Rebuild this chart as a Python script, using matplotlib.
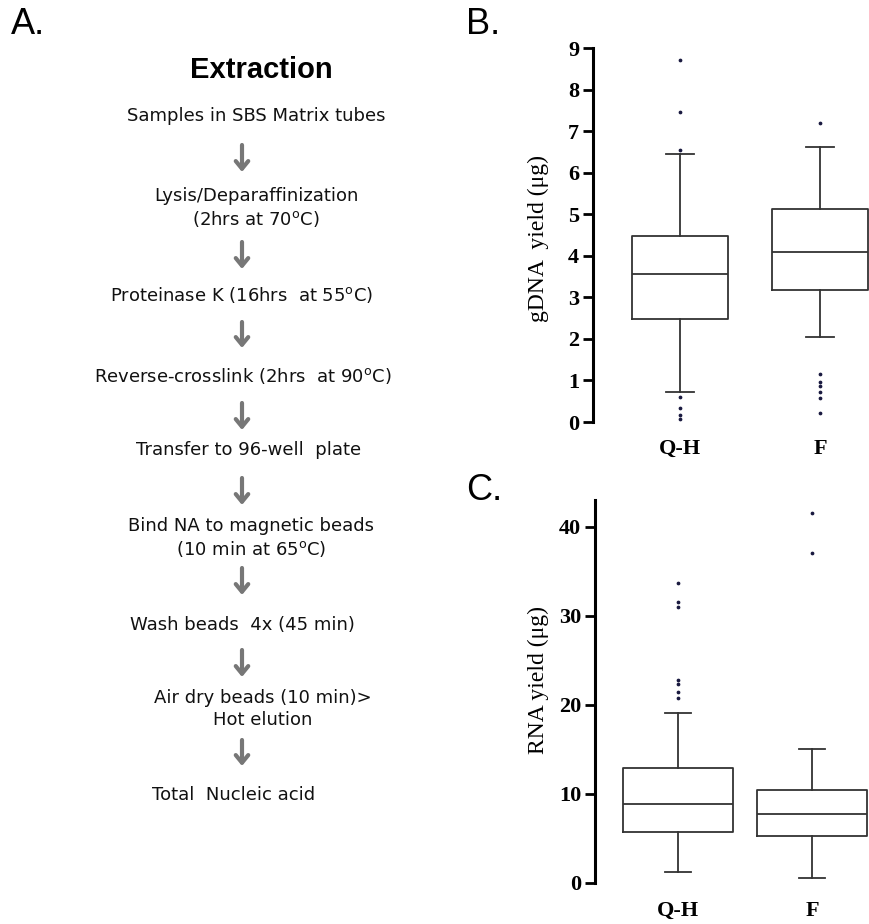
import matplotlib
matplotlib.use("Agg")
import matplotlib.pyplot as plt

# ---------------- data ----------------
groups = ["Q-H", "F"]

gdna_whislo = [0.72, 2.05]
gdna_q1 = [2.47, 3.18]
gdna_med = [3.57, 4.10]
gdna_q3 = [4.48, 5.12]
gdna_whishi = [6.45, 6.62]
gdna_fliers_qh = [8.70, 7.45, 6.55, 0.60, 0.34, 0.17, 0.07]
gdna_fliers_f = [7.20, 1.15, 0.96, 0.87, 0.72, 0.58, 0.22]

rna_whislo = [1.2, 0.6]
rna_q1 = [5.7, 5.3]
rna_med = [8.9, 7.7]
rna_q3 = [12.9, 10.4]
rna_whishi = [19.1, 15.1]
rna_fliers_qh = [33.7, 31.6, 31.0, 22.8, 22.3, 21.5, 20.8]
rna_fliers_f = [41.5, 37.1]

gdna_ticks = [0, 1, 2, 3, 4, 5, 6, 7, 8, 9]
rna_ticks = [0, 10, 20, 30, 40]

steps = [
    "Samples in SBS Matrix tubes",
    "Lysis/Deparaffinization\n(2hrs at 70$^{\\mathregular{o}}$C)",
    "Proteinase K (16hrs  at 55$^{\\mathregular{o}}$C)",
    "Reverse-crosslink (2hrs  at 90$^{\\mathregular{o}}$C)",
    "Transfer to 96-well  plate",
    "Bind NA to magnetic beads\n(10 min at 65$^{\\mathregular{o}}$C)",
    "Wash beads  4x (45 min)",
    "Air dry beads (10 min)>\nHot elution",
    "Total  Nucleic acid",
]

# ---------------- layout ----------------
W, H = 869, 924
fig = plt.figure(figsize=(W / 100, H / 100), dpi=100)

# Panel A: flow chart in pixel coordinates
axA = fig.add_axes([0, 0, 1, 1])
axA.set_xlim(0, W)
axA.set_ylim(H, 0)
axA.axis("off")

sans = "Liberation Sans"
flow_font = "DejaVu Sans"
axA.text(11, 25, "A.", fontsize=26, family=sans, va="center", ha="left")
axA.text(466, 24, "B.", fontsize=26, family=sans, va="center", ha="left")
axA.text(466, 491, "C.", fontsize=26, family=sans, va="center", ha="left")
axA.text(261, 70, "Extraction", fontsize=21, family=sans, weight="bold",
         ha="center", va="center")

step_x = [256, 256, 242, 243, 249, 251, 242, 263, 234]
step_y = [116, 208, 295, 376, 450, 538, 625, 709, 795]
arrow_y = [(145, 172), (242, 269), (322, 348), (403, 430),
           (478, 505), (568, 595), (650, 677), (740, 766)]
arrow_x = 242

for txt, x, y in zip(steps, step_x, step_y):
    axA.text(x, y, txt, fontsize=13, family=flow_font, ha="center", va="center",
             linespacing=1.3, color="#111111")

for (y0, y1) in arrow_y:
    axA.annotate("", xy=(arrow_x, y1), xytext=(arrow_x, y0),
                 arrowprops=dict(arrowstyle="->,head_width=0.45,head_length=0.55",
                                 color="#777777", lw=3, shrinkA=0, shrinkB=0))

serif = "Liberation Serif"


def make_box(ax, whislo, q1, med, q3, whishi, fliers_list, width, ylim, ticks, ylabel):
    stats = []
    for i, g in enumerate(groups):
        stats.append(dict(label=g, whislo=whislo[i], q1=q1[i], med=med[i],
                          q3=q3[i], whishi=whishi[i], fliers=fliers_list[i]))
    ax.bxp(stats, positions=[1, 2], widths=width, capwidths=0.2,
           boxprops=dict(color="#333333", lw=1.3),
           medianprops=dict(color="#333333", lw=1.3),
           whiskerprops=dict(color="#333333", lw=1.3),
           capprops=dict(color="#333333", lw=1.3),
           flierprops=dict(marker="o", markersize=1.7, markerfacecolor="#1a1a40",
                           markeredgecolor="#1a1a40", linestyle="none"))
    ax.set_ylim(*ylim)
    ax.set_yticks(ticks)
    for s in ["top", "right", "bottom"]:
        ax.spines[s].set_visible(False)
    ax.spines["left"].set_linewidth(2.2)
    ax.tick_params(axis="y", direction="out", length=7, width=2, pad=3)
    ax.tick_params(axis="x", length=0)
    ax.set_xticks([1, 2])
    ax.set_xticklabels(groups)
    for lab in ax.get_yticklabels():
        lab.set_fontfamily(serif)
        lab.set_fontweight("bold")
        lab.set_fontsize(16)
    for lab in ax.get_xticklabels():
        lab.set_fontfamily(serif)
        lab.set_fontweight("bold")
        lab.set_fontsize(16)
    ax.set_ylabel(ylabel, family=serif, fontsize=17)
    ax.patch.set_alpha(0)


# Panel B
axB = fig.add_axes([593 / W, 1 - 422 / H, (W - 593) / W, (422 - 48) / H])
make_box(axB, gdna_whislo, gdna_q1, gdna_med, gdna_q3, gdna_whishi,
         [gdna_fliers_qh, gdna_fliers_f], 0.68, (0, 9), gdna_ticks,
         "gDNA  yield (\u03bcg)")
axB.set_xlim(0.379, 2.35)
axB.tick_params(axis="x", pad=12)
axB.yaxis.set_label_coords(-0.16, 0.49)

# Panel C
axC = fig.add_axes([595 / W, 1 - 883 / H, (W - 595) / W, (883 - 500) / H])
make_box(axC, rna_whislo, rna_q1, rna_med, rna_q3, rna_whishi,
         [rna_fliers_qh, rna_fliers_f], 0.82, (0, 43), rna_ticks,
         "RNA yield (\u03bcg)")
axC.set_xlim(0.381, 2.425)
axC.tick_params(axis="x", pad=13)
axC.yaxis.set_label_coords(-0.168, 0.53)

fig.savefig("out.png", dpi=100)
